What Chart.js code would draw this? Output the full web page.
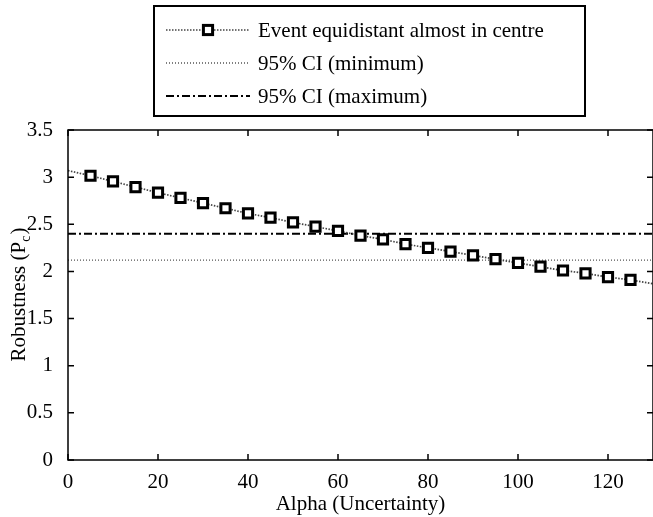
<!DOCTYPE html>
<html>
<head>
<script src="https://cdn.jsdelivr.net/npm/chart.js@4/dist/chart.umd.min.js"></script>
<style>
  body { margin: 0; background: #fff; }
  #wrap { width: 653px; height: 517px; }
</style>
</head>
<body>
<div id="wrap"><canvas id="chart" width="653" height="517"></canvas></div>
<script>
// data
var alphaValues = [0, 5, 10, 15, 20, 25, 30, 35, 40, 45, 50, 55, 60, 65, 70, 75, 80, 85, 90, 95, 100, 105, 110, 115, 120, 125, 130];
var robustness  = [3.07, 3.015, 2.955, 2.895, 2.835, 2.78, 2.725, 2.67, 2.615, 2.57, 2.52, 2.475, 2.43, 2.38, 2.34, 2.29, 2.25, 2.21, 2.17, 2.13, 2.09, 2.05, 2.01, 1.98, 1.94, 1.91, 1.87];
var ciRange = [0, 130];
var ciMin = 2.12;
var ciMax = 2.40;
var seriesLabels = ['Event equidistant almost in centre', '95% CI (minimum)', '95% CI (maximum)'];
var xTicks = [0, 20, 40, 60, 80, 100, 120];
var yTicks = [0, 0.5, 1, 1.5, 2, 2.5, 3, 3.5];

var FONT = '"Liberation Serif", "Times New Roman", serif';
var FS = 21;

var mainData = alphaValues.map(function (a, i) { return { x: a, y: robustness[i] }; });
var minData = ciRange.map(function (a) { return { x: a, y: ciMin }; });
var maxData = ciRange.map(function (a) { return { x: a, y: ciMax }; });

// boxed legend at the top, drawn from the datasets
var boxLegend = {
    id: 'boxLegend',
    afterDraw: function (chart) {
        var c = chart.ctx;
        var left = 154, top = 6, right = 585, bottom = 116;
        c.save();
        c.lineWidth = 2;
        c.strokeStyle = '#000';
        c.strokeRect(left, top, right - left, bottom - top);
        var rows = [30, 63, 96];
        chart.data.datasets.forEach(function (ds, i) {
            var y = rows[i];
            c.save();
            c.strokeStyle = ds.borderColor;
            c.lineWidth = ds.borderWidth;
            c.setLineDash(ds.borderDash || []);
            c.beginPath();
            c.moveTo(166, y);
            c.lineTo(250, y);
            c.stroke();
            c.restore();
            if (ds.legendMarker) {
                c.fillStyle = '#fff';
                c.strokeStyle = '#000';
                c.lineWidth = 3;
                var s = ds.legendMarker * Math.SQRT1_2;
                c.fillRect(208 - s, y - s, 2 * s, 2 * s);
                c.strokeRect(208 - s, y - s, 2 * s, 2 * s);
            }
            c.fillStyle = '#000';
            c.font = FS + 'px ' + FONT;
            c.textBaseline = 'middle';
            c.textAlign = 'left';
            c.fillText(ds.label, 258, y + 1);
        });
        c.restore();
    }
};

// matlab-like frame: box plus inward ticks, and y title with subscript
var frame = {
    id: 'frame',
    afterDraw: function (chart) {
        var c = chart.ctx, a = chart.chartArea;
        var xs = chart.scales.x, ys = chart.scales.y;
        c.save();
        c.strokeStyle = '#000';
        c.lineWidth = 1.5;
        c.strokeRect(a.left, a.top, a.right - a.left, a.bottom - a.top);
        c.beginPath();
        xTicks.forEach(function (v) {
            var px = xs.getPixelForValue(v);
            c.moveTo(px, a.bottom); c.lineTo(px, a.bottom - 6);
            c.moveTo(px, a.top); c.lineTo(px, a.top + 6);
        });
        yTicks.forEach(function (v) {
            var py = ys.getPixelForValue(v);
            c.moveTo(a.left, py); c.lineTo(a.left + 6, py);
            c.moveTo(a.right, py); c.lineTo(a.right - 6, py);
        });
        c.stroke();

        // y axis title
        c.translate(19, (a.top + a.bottom) / 2);
        c.rotate(-Math.PI / 2);
        c.fillStyle = '#000';
        c.textBaseline = 'middle';
        var t1 = 'Robustness (P', t2 = 'c', t3 = ')';
        c.font = FS + 'px ' + FONT;
        var w1 = c.measureText(t1).width, w3 = c.measureText(t3).width;
        c.font = '14px ' + FONT;
        var w2 = c.measureText(t2).width;
        var x0 = -(w1 + w2 + w3) / 2;
        c.textAlign = 'left';
        c.font = FS + 'px ' + FONT;
        c.fillText(t1, x0, 0);
        c.font = '14px ' + FONT;
        c.fillText(t2, x0 + w1, 7);
        c.font = FS + 'px ' + FONT;
        c.fillText(t3, x0 + w1 + w2 + 1, 0);
        c.restore();
    }
};

new Chart(document.getElementById('chart'), {
    type: 'line',
    data: {
        datasets: [
            {
                label: seriesLabels[0],
                data: mainData,
                borderColor: '#444',
                borderWidth: 1.7,
                borderDash: [1.5, 1.5],
                pointStyle: 'rect',
                pointRadius: function (ctx) {
                    var x = alphaValues[ctx.dataIndex];
                    return (x === 0 || x === 130) ? 0 : 6.5;
                },
                pointBorderColor: '#000',
                pointBackgroundColor: '#fff',
                pointBorderWidth: 3,
                legendMarker: 6.5,
                order: 0
            },
            {
                label: seriesLabels[1],
                data: minData,
                borderColor: '#555',
                borderWidth: 1.3,
                borderDash: [1, 2],
                pointRadius: 0,
                order: 1
            },
            {
                label: seriesLabels[2],
                data: maxData,
                borderColor: '#000',
                borderWidth: 2,
                borderDash: [8, 3, 2, 3],
                pointRadius: 0,
                order: 1
            }
        ]
    },
    options: {
        responsive: false,
        animation: false,
        layout: { padding: { top: 130, right: 0, left: 0, bottom: 0 } },
        plugins: {
            legend: { display: false },
            tooltip: { enabled: false }
        },
        scales: {
            x: {
                type: 'linear',
                min: 0,
                max: 130,
                afterBuildTicks: function (s) {
                    s.ticks = xTicks.map(function (v) { return { value: v }; });
                },
                afterFit: function (s) { s.height = 57; },
                grid: { display: false },
                border: { display: false },
                ticks: {
                    color: '#000',
                    font: { family: FONT, size: FS },
                    padding: 2,
                    maxRotation: 0,
                    autoSkip: false
                },
                title: {
                    display: true,
                    text: 'Alpha (Uncertainty)',
                    color: '#000',
                    font: { family: FONT, size: FS },
                    padding: { top: 0, bottom: 0 }
                }
            },
            y: {
                min: 0,
                max: 3.5,
                afterBuildTicks: function (s) {
                    s.ticks = yTicks.map(function (v) { return { value: v }; });
                },
                afterFit: function (s) { s.width = 68; },
                grid: { display: false },
                border: { display: false },
                ticks: {
                    color: '#000',
                    font: { family: FONT, size: FS },
                    padding: 7,
                    callback: function (v) { return String(v); }
                }
            }
        }
    },
    plugins: [frame, boxLegend]
});
</script>
</body>
</html>
